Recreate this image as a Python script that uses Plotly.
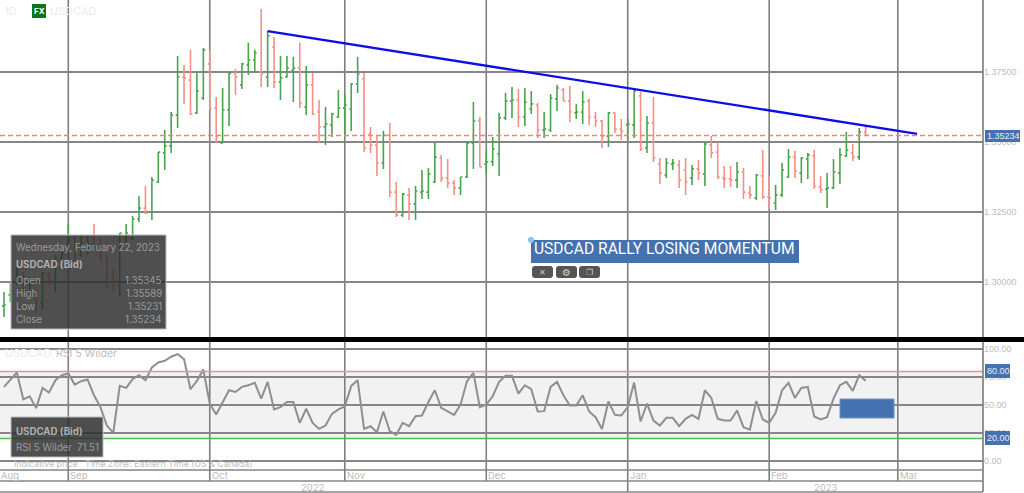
import plotly.graph_objects as go

# ---- data -----------------------------------------------------------------
bar_index = list(range(-10, 125))   # trading-day number, 0 = 1 Sep 2022

opens = [1.2914,1.2954,1.3014,1.3018,1.2964,1.2961,1.2925,1.3018,1.3014,1.3086,
1.3132,1.3157,1.3096,1.3132,1.3157,1.3132,1.3093,1.3018,1.2989,1.315,
1.3157,1.3225,1.3264,1.325,1.3357,1.3461,1.3486,1.3596,1.3732,1.3721,
1.3604,1.3657,1.3779,1.3621,1.3496,1.3614,1.3746,1.3704,1.3775,1.3793,
1.375,1.3732,1.3839,1.3714,1.3732,1.3757,1.3764,1.3625,1.3704,1.3607,
1.3554,1.3561,1.3589,1.3621,1.3618,1.3707,1.3725,1.3529,1.3489,1.3425,
1.3525,1.3321,1.3239,1.3311,1.3279,1.3321,1.3321,1.3357,1.3443,1.3371,
1.3354,1.3336,1.3375,1.3496,1.3575,1.3421,1.3429,1.3457,1.3586,1.3646,
1.365,1.3589,1.3618,1.3632,1.3543,1.3543,1.3654,1.3686,1.3646,1.3604,
1.3607,1.3646,1.3589,1.3575,1.3521,1.3604,1.3546,1.3561,1.3561,1.3664,
1.3479,1.3568,1.3421,1.3382,1.3421,1.3418,1.34,1.3371,1.3404,1.3386,
1.3489,1.3464,1.3371,1.3368,1.3364,1.3393,1.3318,1.33,1.3379,1.3304,
1.3282,1.3311,1.3375,1.3446,1.3389,1.3439,1.345,1.3339,1.3332,1.3336,
1.3389,1.345,1.3461,1.3446,1.35345]

highs = [1.2964,1.2996,1.305,1.3036,1.3007,1.2971,1.3036,1.3036,1.3096,1.3107,
1.3207,1.3168,1.3168,1.3168,1.3207,1.3157,1.3093,1.305,1.3175,1.3207,
1.3236,1.3307,1.3343,1.3375,1.3464,1.3543,1.3607,1.3807,1.3775,1.3829,
1.375,1.3836,1.3825,1.3661,1.3693,1.375,1.3761,1.3782,1.3854,1.3829,
1.3975,1.3896,1.3875,1.3807,1.3807,1.3804,1.3854,1.3771,1.3746,1.365,
1.3625,1.3604,1.3686,1.3668,1.3711,1.3804,1.3746,1.3554,1.3525,1.3539,
1.3568,1.3357,1.3318,1.3336,1.3343,1.34,1.3407,1.3496,1.3454,1.3439,
1.3364,1.3375,1.3504,1.3643,1.3589,1.3468,1.3518,1.3604,1.3675,1.3696,
1.3689,1.3693,1.3682,1.3639,1.3607,1.3671,1.3704,1.3693,1.37,1.3636,
1.3682,1.3654,1.3607,1.3579,1.3607,1.3604,1.3582,1.3582,1.3689,1.3679,
1.3593,1.3661,1.3443,1.3443,1.3439,1.3436,1.3443,1.3418,1.3436,1.35,
1.3521,1.35,1.3414,1.3414,1.3429,1.3407,1.3343,1.3386,1.3471,1.3379,
1.3346,1.3425,1.3475,1.3468,1.3446,1.3461,1.3471,1.3379,1.3389,1.3439,
1.3479,1.3536,1.3493,1.355,1.35589]

lows = [1.2875,1.2929,1.2989,1.2961,1.2946,1.2889,1.29,1.2989,1.2964,1.3082,
1.3132,1.3071,1.3089,1.3096,1.3125,1.3071,1.2979,1.2964,1.295,1.3139,
1.315,1.3214,1.3243,1.3221,1.3354,1.34,1.3461,1.355,1.3636,1.3596,
1.36,1.365,1.3614,1.3496,1.3496,1.3557,1.3668,1.3689,1.3739,1.375,
1.3696,1.3696,1.3693,1.365,1.3729,1.3643,1.3621,1.3596,1.3596,1.3496,
1.3489,1.3518,1.3586,1.3521,1.3539,1.3675,1.3464,1.3461,1.3379,1.3404,
1.3304,1.3232,1.3232,1.3221,1.3221,1.3296,1.3296,1.3354,1.3357,1.3336,
1.3311,1.3311,1.3371,1.3404,1.3411,1.3389,1.3414,1.3379,1.3579,1.3586,
1.3554,1.3557,1.36,1.3514,1.3514,1.3536,1.3611,1.3646,1.3571,1.3582,
1.3564,1.3561,1.3554,1.3479,1.3482,1.3532,1.3507,1.3507,1.3514,1.3468,
1.3461,1.3429,1.335,1.3371,1.34,1.3336,1.3311,1.3346,1.3364,1.3343,
1.3443,1.3368,1.3336,1.3339,1.3336,1.3296,1.3296,1.3293,1.3296,1.3261,
1.3257,1.3304,1.3371,1.3371,1.3354,1.3368,1.3332,1.3318,1.3264,1.3332,
1.335,1.3446,1.3432,1.3436,1.35231]

closes = [1.2918,1.2971,1.3025,1.2989,1.2989,1.2925,1.3032,1.3007,1.3086,1.3104,
1.315,1.3096,1.3136,1.3136,1.3132,1.3093,1.3025,1.2989,1.3175,1.3175,
1.3225,1.3264,1.3246,1.3364,1.3464,1.3486,1.3596,1.3732,1.3729,1.36,
1.3682,1.3829,1.3618,1.3518,1.3614,1.3746,1.3732,1.3779,1.3793,1.3818,
1.3743,1.3879,1.3714,1.3729,1.3764,1.3764,1.3639,1.3704,1.36,1.3554,
1.3564,1.36,1.3621,1.3632,1.3707,1.3743,1.3479,1.3489,1.3425,1.3525,
1.3321,1.3239,1.3314,1.3279,1.3325,1.3325,1.3386,1.3446,1.3371,1.3354,
1.3336,1.3375,1.3496,1.3575,1.3411,1.3429,1.3475,1.3586,1.3646,1.365,
1.3589,1.3643,1.3636,1.3543,1.3546,1.3657,1.3693,1.3646,1.3607,1.3607,
1.3643,1.3589,1.3575,1.3518,1.3604,1.3546,1.3539,1.3564,1.3682,1.3475,
1.3568,1.3443,1.3389,1.3425,1.3425,1.3364,1.3357,1.3404,1.3389,1.3493,
1.3461,1.3375,1.3368,1.3364,1.3393,1.3321,1.3311,1.3382,1.3304,1.33,
1.3311,1.34,1.3446,1.3396,1.3443,1.3454,1.3343,1.3329,1.3336,1.3393,
1.3454,1.3471,1.3446,1.3536,1.35234]

rsi = [66.1,72.1,79.0,55.0,57.7,47.1,65.2,61.0,72.1,76.6,
78.1,68.2,71.2,72.7,58.6,48.0,31.5,24.9,67.0,65.2,
73.0,76.6,72.1,83.5,88.0,89.5,93.1,95.5,91.0,64.0,
71.5,81.7,51.1,41.4,52.6,63.1,61.6,66.1,67.6,69.7,
55.6,70.6,45.9,48.0,52.6,52.6,33.9,46.5,33.9,28.5,
31.5,42.0,45.9,48.6,67.0,72.1,28.5,30.9,25.5,44.1,
26.4,23.1,33.9,30.9,39.9,40.5,52.6,63.1,47.4,44.1,
41.1,50.2,71.2,78.7,48.0,50.2,57.7,70.6,76.0,76.0,
60.1,67.6,64.0,44.1,44.4,66.1,70.6,58.6,49.5,49.5,
58.6,44.1,39.0,28.5,53.2,41.1,40.5,48.0,70.0,35.1,
51.1,36.0,31.5,38.4,38.4,30.9,37.5,41.1,37.5,63.1,
56.2,37.5,36.0,36.0,45.0,30.0,27.9,53.5,36.9,33.9,
42.9,63.1,69.7,56.2,65.2,66.1,39.6,36.9,39.0,55.6,
67.6,70.6,62.5,76.6,71.51]

month_starts = [0, 22, 43, 65, 87, 109, 129]
month_labels = ["Sep", "Oct", "Nov", "Dec", "Jan", "Feb", "Mar"]
price_ticks = [1.30, 1.325, 1.35, 1.375]
rsi_ticks = [0, 25, 50, 75, 100]
last_close = 1.35234
trend_x = [31, 132]
trend_y = [1.3896, 1.3529]
rsi_upper, rsi_lower = 80, 20

tooltip_rows = [("Open", "1.35345"), ("High", "1.35589"), ("Low", "1.35231"), ("Close", "1.35234")]

# ---- style -----------------------------------------------------------------
W, H = 1024, 493
AXIS_X = 983
GRID = "#868686"
BLUE = "#4472b0"
FONT = "Inter, Roboto, sans-serif"
px = lambda x: x / W
py = lambda y: 1 - y / H

fig = go.Figure()
fig.add_trace(go.Ohlc(
    x=bar_index, open=opens, high=highs, low=lows, close=closes,
    increasing=dict(line=dict(color="#4aa34f", width=1.6)),
    decreasing=dict(line=dict(color="#f78f87", width=1.6)),
    tickwidth=0.3, xaxis="x", yaxis="y", showlegend=False))
fig.add_trace(go.Scatter(x=trend_x, y=trend_y, mode="lines",
    line=dict(color="#0d0de8", width=2.4), xaxis="x", yaxis="y", showlegend=False))
fig.add_trace(go.Scatter(x=bar_index, y=rsi, mode="lines",
    line=dict(color="#8f8f8f", width=2), xaxis="x2", yaxis="y2", showlegend=False))

shapes, ann = [], []

def rect(x0, y0, x1, y1, fill, layer="above", line=None):
    shapes.append(dict(type="rect", xref="paper", yref="paper", x0=px(x0), x1=px(x1),
                       y0=py(y1), y1=py(y0), fillcolor=fill, layer=layer,
                       line=dict(width=1 if line else 0, color=line or fill)))

def hline(y, x0=0, x1=AXIS_X, color=GRID, width=1.5):
    shapes.append(dict(type="line", xref="paper", yref="paper", x0=px(x0), x1=px(x1),
                       y0=py(y), y1=py(y), line=dict(color=color, width=width), layer="above"))

def text(x, y, s, size=10, color="#bdbdbd", anchor="left", font=FONT, bold=False):
    ann.append(dict(xref="paper", yref="paper", x=px(x), y=py(y), text=f"<b>{s}</b>" if bold else s,
                    showarrow=False, xanchor=anchor, yanchor="middle", borderpad=0,
                    font=dict(size=size, color=color, family=font)))

def round_rect(x0, y0, x1, y1, r, fill):
    a, b, c, d = px(x0), px(x1), py(y0), py(y1)
    rx, ry = r / W, r / H
    path = (f"M{a+rx},{c} L{b-rx},{c} Q{b},{c} {b},{c-ry} L{b},{d+ry} Q{b},{d} {b-rx},{d} "
            f"L{a+rx},{d} Q{a},{d} {a},{d+ry} L{a},{c-ry} Q{a},{c} {a+rx},{c} Z")
    shapes.append(dict(type="path", xref="paper", yref="paper", path=path, fillcolor=fill,
                       line=dict(width=0), layer="above"))

# RSI band and limits
shapes.append(dict(type="rect", xref="paper", yref="y2", x0=0, x1=px(AXIS_X), y0=rsi_lower, y1=rsi_upper,
                   fillcolor="#f2f2f2", line=dict(width=0), layer="below"))
shapes.append(dict(type="line", xref="paper", yref="y2", x0=0, x1=px(AXIS_X), y0=rsi_upper, y1=rsi_upper,
                   line=dict(color="#ee8f8a", width=1.5), layer="above"))
shapes.append(dict(type="line", xref="paper", yref="y2", x0=0, x1=px(AXIS_X), y0=rsi_lower, y1=rsi_lower,
                   line=dict(color="#55bb55", width=1.5), layer="above"))
# last-price dashed line
shapes.append(dict(type="line", xref="paper", yref="y", x0=0, x1=px(AXIS_X), y0=last_close, y1=last_close,
                   line=dict(color="#f8807a", width=1.6, dash="5px,3px"), layer="above"))
# month separators, through both panels and the date strip
for m, lab in zip(month_starts, month_labels):
    bottom = 492 if lab == "Jan" else 481
    shapes.append(dict(type="line", xref="x", yref="paper", x0=m, x1=m, y0=py(bottom), y1=1,
                       line=dict(color="#7f7f7f", width=1.6), layer="below"))
# date strip lines, axis line, separator bar
hline(470); hline(481); hline(492)
shapes.append(dict(type="line", xref="paper", yref="paper", x0=px(AXIS_X), x1=px(AXIS_X), y0=py(492), y1=1,
                   line=dict(color="#7a7a7a", width=1.6), layer="above"))
rect(0, 337, W, 342, "#000000")

# Overlays
rect(11, 235, 166, 329, "rgba(45,45,45,0.84)", line="#bbbbbb")
rect(11, 417, 103, 457, "rgba(45,45,45,0.84)", line="#bbbbbb")
rect(531, 240, 799, 263, BLUE)
rect(840, 399, 894, 418, BLUE, line="#6f93c6")
rect(985, 130, 1020, 142, BLUE)
rect(985, 364, 1010, 378, BLUE)
rect(985, 431, 1010, 445, BLUE)
rect(32, 4, 46, 18, "#08761a")
shapes.append(dict(type="circle", xref="paper", yref="paper", x0=px(528), x1=px(534), y0=py(243), y1=py(237),
                   fillcolor="#8fc0ee", line=dict(width=0), layer="above"))
for x0, x1 in [(532, 553), (556, 577), (579, 600)]:
    round_rect(x0, 266, x1, 278, 3, "#555555")

text(533, 249, "USDCAD RALLY LOSING MOMENTUM", size=15.6, color="#ffffff", font="Roboto, sans-serif")
text(542.5, 272, "✕", size=8, color="#d0d0d0", anchor="center", font="DejaVu Sans")
text(566.5, 272, "⚙", size=10, color="#d0d0d0", anchor="center", font="DejaVu Sans")
text(589.5, 272, "❐", size=8, color="#d0d0d0", anchor="center", font="DejaVu Sans")

text(4, 11, "1D", size=10, color="#ececec")
text(39, 11, "FX", size=8, color="#ffffff", anchor="center", bold=True)
text(49, 11, "USDCAD", size=11, color="#ececec")

text(15, 247, "Wednesday, February 22, 2023", size=9.7, color="#9a9a9a")
text(15, 264, "USDCAD (Bid)", size=9.7, color="#b0b0b0", bold=True)
for (lab, val), y in zip(tooltip_rows, [280, 293, 306, 319]):
    text(15, y, lab, size=9.7, color="#9a9a9a")
    text(163, y, val, size=9.7, color="#9a9a9a", anchor="right")

text(4, 353, "USDCAD", size=11, color="#ececec")
text(55, 353, "RSI 5 Wilder", size=10.6, color="#bdbdbd")
text(15, 431, "USDCAD (Bid)", size=9.7, color="#b0b0b0", bold=True)
text(15, 447, "RSI 5 Wilder", size=9.7, color="#9a9a9a")
text(100, 447, "71.51", size=9.7, color="#9a9a9a", anchor="right")
text(13, 463, "Indicative price", size=8.8, color="#bdbdbd")
text(84, 463, "Time Zone: Eastern Time (US &amp; Canada)", size=8.8, color="#bdbdbd")

text(0, 475.5, "Aug", size=9.5)
for m, lab in zip(month_starts, month_labels):
    ann.append(dict(xref="x", yref="paper", x=m, xshift=0, y=py(475.5), text=lab, showarrow=False,
                    xanchor="left", yanchor="middle", font=dict(size=9.5, color="#bdbdbd", family=FONT)))
text(313, 487, "2022", size=9.5, anchor="center")
text(826, 487, "2023", size=9.5, anchor="center")

text(986, 135.5, f"{last_close:.5f}", size=9, color="#e6ecf5", font="Liberation Sans")
text(986, 371, f"{rsi_upper:.2f}", size=9, color="#e6ecf5", font="Liberation Sans")
text(986, 438, f"{rsi_lower:.2f}", size=9, color="#e6ecf5", font="Liberation Sans")

common_x = dict(showgrid=False, zeroline=False, showticklabels=False, ticks="",
                range=[-10.62, 142.25], domain=[0, AXIS_X / W])
common_y = dict(showgrid=True, gridcolor=GRID, gridwidth=1.5, zeroline=False, side="right",
                ticks="", tickfont=dict(size=9, color="#bdbdbd", family="Liberation Sans"))

fig.update_layout(
    width=W, height=H, margin=dict(l=0, r=0, t=0, b=0),
    paper_bgcolor="#ffffff", plot_bgcolor="#ffffff", showlegend=False,
    xaxis=dict(common_x, anchor="y", rangeslider=dict(visible=False)),
    xaxis2=dict(common_x, anchor="y2", matches="x"),
    yaxis=dict(common_y, anchor="x", domain=[py(337), 1], range=[1.28036, 1.40071],
               tickvals=price_ticks, ticktext=[f"{t:.5f}" for t in price_ticks]),
    yaxis2=dict(common_y, anchor="x2", domain=[py(470), py(342)], range=[-8.3, 106.3],
                tickvals=rsi_ticks, ticktext=[f"{t:.2f}" for t in rsi_ticks]),
    shapes=shapes, annotations=ann,
)
fig.write_html("out.html", config=dict(displayModeBar=False),
               post_script="document.body.style.margin='0';")
